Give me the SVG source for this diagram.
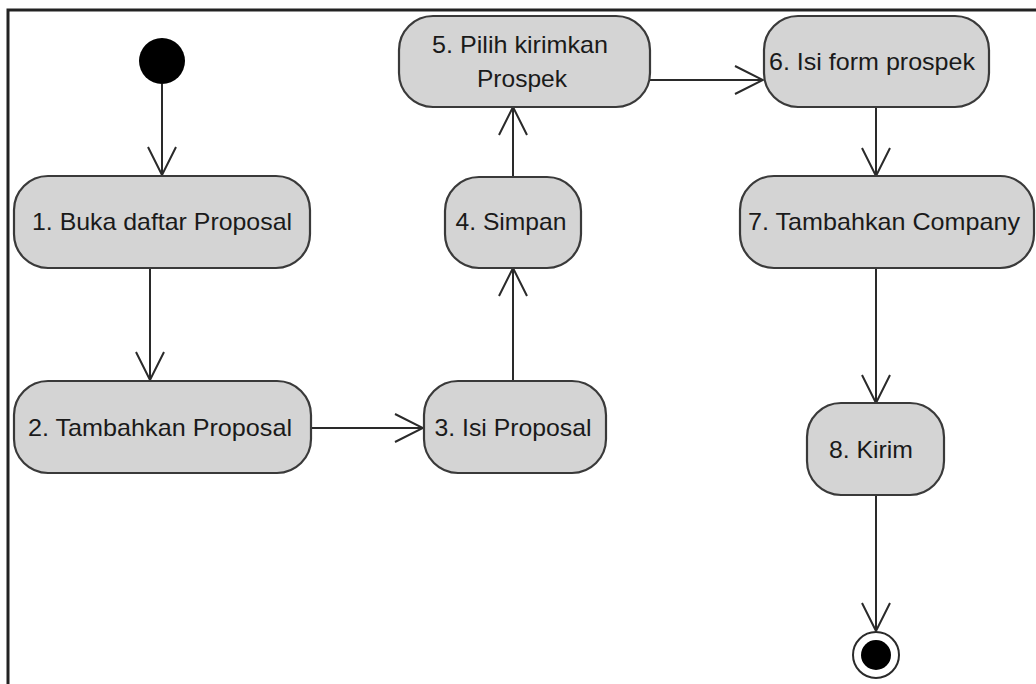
<svg xmlns="http://www.w3.org/2000/svg" width="1036" height="684" viewBox="0 0 1036 684">
  <style>
    .act rect { fill: #d4d4d4; stroke: #3a3a3a; stroke-width: 2.2; }
    .act text { font-family: "Liberation Sans", Arial, sans-serif; font-size: 24px; fill: #1a1a1a; text-anchor: middle; }
    .flow path { fill: none; stroke: #2a2a2a; stroke-width: 2; marker-end: url(#open); }
    .frame { fill: none; stroke: #222; stroke-width: 3; }
  </style>
  <defs>
    <marker id="open" viewBox="-30 -16 32 32" refX="0" refY="0" markerWidth="32" markerHeight="32" markerUnits="userSpaceOnUse" orient="auto">
      <path d="M -28 -14 L 0 0 L -28 14" fill="none" stroke="#2a2a2a" stroke-width="2"/>
    </marker>
  </defs>

  <rect width="1036" height="684" fill="#ffffff"/>
  <!-- diagram frame (left and top edges) -->
  <path class="frame" d="M 8 690 L 8 10 L 1040 10"/>

  <!-- control flows -->
  <g id="connectors" class="flow">
    <path d="M 162 84 L 162 175"/>
    <path d="M 150 268 L 150 380"/>
    <path d="M 311 428 L 423 428"/>
    <path d="M 513 380 L 513 268"/>
    <path d="M 513 177 L 513 107"/>
    <path d="M 650 80 L 763 80"/>
    <path d="M 876 107 L 876 176"/>
    <path d="M 876 268 L 876 403"/>
    <path d="M 876 495 L 876 631"/>
  </g>

  <g id="start">
    <circle cx="162" cy="61" r="23" fill="#000"/>
  </g>

  <g id="a1" class="act">
    <rect x="14" y="176" width="296" height="92" rx="34"/>
    <text x="162" y="230" textLength="260" lengthAdjust="spacingAndGlyphs">1. Buka daftar Proposal</text>
  </g>
  <g id="a2" class="act">
    <rect x="14" y="381" width="297" height="92" rx="34"/>
    <text x="160" y="436" textLength="264" lengthAdjust="spacingAndGlyphs">2. Tambahkan Proposal</text>
  </g>
  <g id="a3" class="act">
    <rect x="424" y="381" width="182" height="92" rx="34"/>
    <text x="513" y="436" textLength="157" lengthAdjust="spacingAndGlyphs">3. Isi Proposal</text>
  </g>
  <g id="a4" class="act">
    <rect x="445" y="177" width="136" height="91" rx="34"/>
    <text x="511" y="230" textLength="111" lengthAdjust="spacingAndGlyphs">4. Simpan</text>
  </g>
  <g id="a5" class="act">
    <rect x="399" y="16" width="251" height="91" rx="34"/>
    <text x="520" y="53" textLength="176" lengthAdjust="spacingAndGlyphs">5. Pilih kirimkan</text>
    <text x="522" y="87" textLength="90" lengthAdjust="spacingAndGlyphs">Prospek</text>
  </g>
  <g id="a6" class="act">
    <rect x="764" y="16" width="225" height="91" rx="34"/>
    <text x="872" y="70" textLength="206" lengthAdjust="spacingAndGlyphs">6. Isi form prospek</text>
  </g>
  <g id="a7" class="act">
    <rect x="740" y="176" width="294" height="92" rx="34"/>
    <text x="884" y="230" textLength="272" lengthAdjust="spacingAndGlyphs">7. Tambahkan Company</text>
  </g>
  <g id="a8" class="act">
    <rect x="807" y="403" width="137" height="92" rx="34"/>
    <text x="871" y="458" textLength="84" lengthAdjust="spacingAndGlyphs">8. Kirim</text>
  </g>

  <g id="end">
    <circle cx="876" cy="655" r="23" fill="#fff" stroke="#2a2a2a" stroke-width="2"/>
    <circle cx="876" cy="655" r="15" fill="#000"/>
  </g>
</svg>
